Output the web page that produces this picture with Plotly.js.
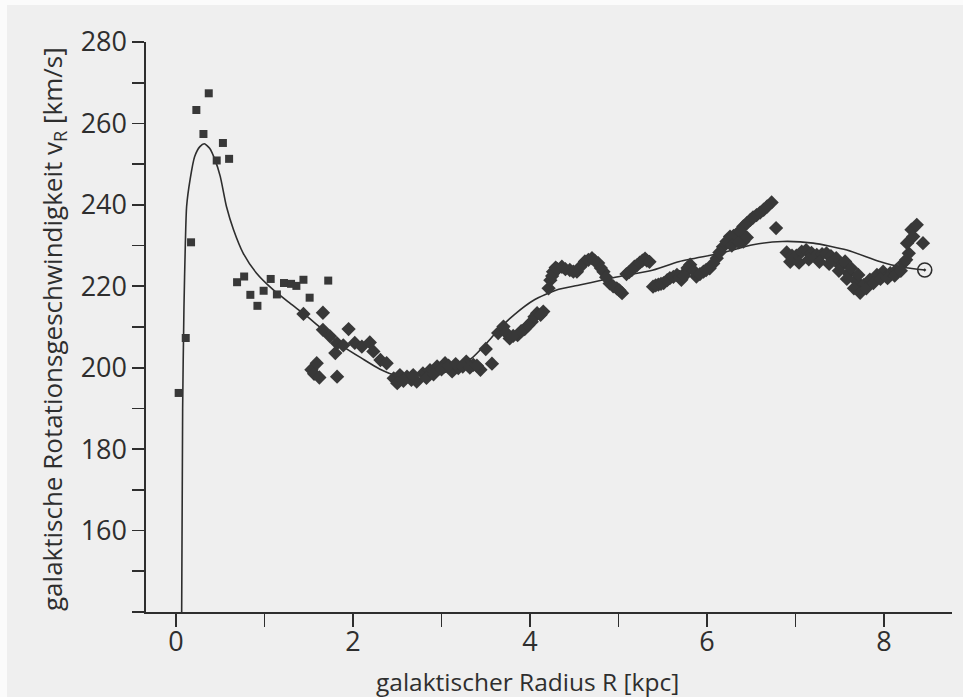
<!DOCTYPE html>
<html>
<head>
<meta charset="utf-8">
<script src="https://cdn.plot.ly/plotly-3.0.1.min.js"></script>
<style>html,body{margin:0;padding:0;background:#efefef;}#chart{width:963px;height:697px;}</style>
</head>
<body>
<div id="chart"></div>
<script>
// Inner region measurements (squares)
const innerR = [0.03, 0.11, 0.17, 0.23, 0.31, 0.37, 0.46, 0.53, 0.60, 0.69, 0.77, 0.84, 0.92, 0.99, 1.07, 1.14, 1.22, 1.30, 1.36, 1.44, 1.51, 1.72];
const innerV = [193.8, 207.3, 230.8, 263.3, 257.4, 267.4, 250.9, 255.2, 251.3, 221.0, 222.4, 217.9, 215.2, 218.9, 221.8, 218.0, 220.8, 220.6, 220.1, 221.6, 217.2, 221.4];

// Outer region measurements (diamonds)
const outerR = [1.44, 1.53, 1.56, 1.59, 1.62, 1.66, 1.66, 1.74, 1.80, 1.82, 1.82, 1.89, 1.95, 2.02, 2.10, 2.19, 2.23, 2.31, 2.38, 2.46, 2.53, 2.61, 2.66, 2.72, 2.79, 2.87, 2.95, 3.04, 3.12, 3.19, 3.28, 3.36, 3.44, 3.50, 3.57, 3.64, 3.70, 3.77, 3.86, 3.94, 4.02, 4.08, 4.15, 4.21, 4.26, 4.31, 4.36, 4.45, 4.53, 4.62, 4.70, 4.77, 4.83, 4.90, 4.98, 5.04, 5.09, 5.15, 5.21, 5.27, 5.32, 5.39, 5.45, 5.51, 5.58, 5.66, 5.71, 5.76, 5.81, 5.88, 5.96, 6.03, 6.11, 6.18, 6.26, 6.33, 6.41, 6.41, 6.49, 6.56, 6.64, 6.73, 6.78, 6.90, 6.96, 7.01, 7.07, 7.12, 7.18, 7.24, 7.30, 7.35, 7.40, 7.46, 7.51, 7.56, 7.60, 7.63, 7.68, 7.71, 7.74, 7.77, 7.84, 7.92, 7.99, 8.07, 8.14, 8.22, 8.28, 8.26, 8.31, 8.37, 8.33, 8.44,
  2.50, 2.57, 2.68, 2.83, 2.91, 3.00, 3.08, 3.16, 3.24, 3.32, 3.40,
  3.73, 3.81, 3.90, 3.98, 4.05, 4.12, 4.23, 4.25,
  4.29, 4.40, 4.49, 4.57, 4.66, 4.73, 4.80, 4.86, 4.94, 5.01,
  5.12, 5.18, 5.24, 5.30, 5.35,
  5.42, 5.48, 5.55, 5.62, 5.69, 5.74, 5.78, 5.85, 5.92, 5.99,
  6.07, 6.14, 6.22, 6.30, 6.37, 6.45, 6.52, 6.60, 6.68, 6.28, 6.36, 6.45,
  6.94, 7.04, 7.15, 7.27, 7.38, 7.49, 7.58, 7.66, 7.73,
  7.80, 7.88, 7.96, 8.04, 8.12, 8.19, 8.25];
const outerV = [213.2, 199.5, 198.5, 201.1, 197.6, 213.5, 209.3, 207.7, 203.6, 197.8, 206.0, 205.5, 209.5, 206.1, 205.2, 206.2, 204.0, 201.9, 201.1, 197.4, 198.2, 197.8, 197.0, 196.6, 198.6, 199.4, 200.3, 201.1, 199.1, 199.9, 201.5, 200.7, 199.5, 204.6, 201.0, 208.5, 210.1, 207.2, 208.0, 209.5, 211.3, 213.4, 213.8, 219.5, 223.6, 224.2, 224.8, 224.0, 223.6, 226.1, 226.9, 225.7, 223.6, 220.7, 219.5, 218.3, 223.0, 224.0, 225.2, 226.3, 226.3, 219.9, 220.4, 220.8, 222.0, 222.8, 221.6, 223.5, 225.3, 222.4, 223.6, 224.4, 226.9, 229.7, 232.2, 232.6, 234.7, 231.0, 236.3, 237.5, 238.8, 240.6, 234.3, 228.3, 227.5, 227.5, 228.5, 228.9, 228.2, 227.7, 227.9, 228.1, 227.4, 226.9, 225.0, 226.1, 223.2, 224.4, 221.5, 222.8, 219.5, 220.3, 221.6, 222.8, 223.6, 223.2, 224.0, 225.7, 228.1, 230.6, 233.9, 235.1, 232.2, 230.6,
  196.2, 196.8, 198.2, 197.5, 198.4, 199.6, 200.5, 200.9, 200.3, 200.0, 200.5,
  208.6, 207.8, 209.0, 210.4, 212.5, 213.0, 221.5, 222.5,
  224.6, 224.2, 223.6, 224.8, 226.5, 226.3, 224.5, 222.2, 220.0, 219.0,
  223.5, 224.8, 225.8, 226.8, 226.0,
  220.2, 220.6, 221.5, 222.3, 222.3, 222.5, 224.5, 223.8, 223.0, 224.0,
  225.6, 228.3, 231.0, 232.4, 233.6, 235.5, 236.9, 238.1, 239.6, 230.0, 230.8, 232.0,
  226.0, 225.8, 226.6, 226.0, 225.5, 223.8, 221.8, 219.5, 218.4,
  219.5, 220.8, 221.8, 222.0, 222.6, 223.8, 226.5];

// Model rotation curve
const curveR = [0.064, 0.075, 0.09, 0.105, 0.12, 0.16, 0.21, 0.27, 0.32, 0.38, 0.44, 0.50, 0.57, 0.65, 0.76, 0.91, 1.10, 1.29, 1.48, 1.66, 1.89, 2.10, 2.30, 2.50, 2.76, 3.00, 3.20, 3.35, 3.50, 3.65, 3.82, 4.05, 4.30, 4.56, 4.83, 5.05, 5.36, 5.69, 6.15, 6.52, 6.85, 7.20, 7.58, 7.95, 8.18, 8.46];
const curveV = [140, 190, 215, 230, 239.6, 246.3, 251.8, 254.3, 255.0, 253.9, 251.1, 247.0, 239.6, 233.9, 228.1, 223.2, 219.1, 215.8, 212.6, 209.3, 205.2, 202.3, 199.7, 198.0, 197.2, 198.5, 200.6, 202.5, 205.8, 209.5, 213.0, 216.7, 219.1, 220.3, 221.6, 222.6, 223.8, 226.1, 228.1, 230.2, 231.0, 230.6, 228.9, 226.1, 224.8, 224.0];

// Sun position
const sunR = [8.46];
const sunV = [224.0];

const yTickVals = [160, 180, 200, 220, 240, 260, 280];
const yTickText = ['160', '180', '200', '220', '240', '260', '280'];
const yMinorVals = [140, 150, 170, 190, 210, 230, 250, 270];
const xTickVals = [0, 2, 4, 6, 8];
const xTickText = ['0', '2', '4', '6', '8'];
const xMinorVals = [1, 3, 5, 7];

const ink = '#2e2e2e';
const font = "'Open Sans', 'Noto Sans', sans-serif";

const traces = [
  {x: curveR, y: curveV, type: 'scatter', mode: 'lines',
   line: {color: ink, width: 1.6, shape: 'spline', smoothing: 0.6}, hoverinfo: 'skip'},
  {x: innerR, y: innerV, type: 'scatter', mode: 'markers',
   marker: {symbol: 'square', size: 8, color: '#383838'}},
  {x: outerR, y: outerV, type: 'scatter', mode: 'markers',
   marker: {symbol: 'diamond', size: 11, color: '#383838'}},
  {x: sunR, y: sunV, type: 'scatter', mode: 'markers',
   marker: {symbol: 'circle-open-dot', size: 14, color: ink, line: {width: 1.6, color: ink}}}
];

const layout = {
  width: 963, height: 697,
  margin: {l: 146, r: 11, t: 42, b: 85},
  paper_bgcolor: '#efefef', plot_bgcolor: '#efefef',
  showlegend: false,
  font: {family: font, color: ink},
  xaxis: {
    range: [-0.339, 8.768], showgrid: false, zeroline: false,
    showline: true, linecolor: ink, linewidth: 1.6,
    ticks: 'outside', ticklen: 13, tickwidth: 1.6, tickcolor: ink,
    tickmode: 'array', tickvals: xTickVals, ticktext: xTickText,
    ticklabelstandoff: -8,
    tickfont: {size: 27, color: ink, family: font},
    minor: {tickmode: 'array', tickvals: xMinorVals, ticks: 'outside', ticklen: 13, tickwidth: 1.6, tickcolor: ink, showgrid: false}
  },
  yaxis: {
    range: [140, 280], showgrid: false, zeroline: false,
    showline: true, linecolor: ink, linewidth: 1.6,
    ticks: 'outside', ticklen: 12, tickwidth: 1.6, tickcolor: ink,
    tickmode: 'array', tickvals: yTickVals, ticktext: yTickText,
    tickfont: {size: 27, color: ink, family: font},
    minor: {tickmode: 'array', tickvals: yMinorVals, ticks: 'outside', ticklen: 12, tickwidth: 1.6, tickcolor: ink, showgrid: false}
  },
  shapes: [
    {type: 'rect', xref: 'paper', yref: 'paper', x0: -146/806, x1: -139/806, y0: -85/570, y1: 655/570, fillcolor: '#fbfbfb', line: {width: 0}, layer: 'below'},
    {type: 'rect', xref: 'paper', yref: 'paper', x0: -146/806, x1: 817/806, y0: 607/570, y1: 655/570, fillcolor: '#fbfbfb', line: {width: 0}, layer: 'below'}
  ],
  annotations: [
    {text: 'galaktische Rotationsgeschwindigkeit v<sub>R</sub> [km/s]', textangle: -90,
     xref: 'paper', yref: 'paper', x: (53 - 146) / 806, y: (612 - 329) / 570,
     xanchor: 'center', yanchor: 'middle', showarrow: false,
     font: {size: 26, color: ink, family: font}},
    {text: 'galaktischer Radius R [kpc]',
     xref: 'paper', yref: 'paper', x: (527 - 146) / 806, y: (612 - 681) / 570,
     xanchor: 'center', yanchor: 'middle', showarrow: false,
     font: {size: 24.5, color: ink, family: font}}
  ]
};

Plotly.newPlot('chart', traces, layout, {displayModeBar: false, staticPlot: true});
</script>
</body>
</html>
